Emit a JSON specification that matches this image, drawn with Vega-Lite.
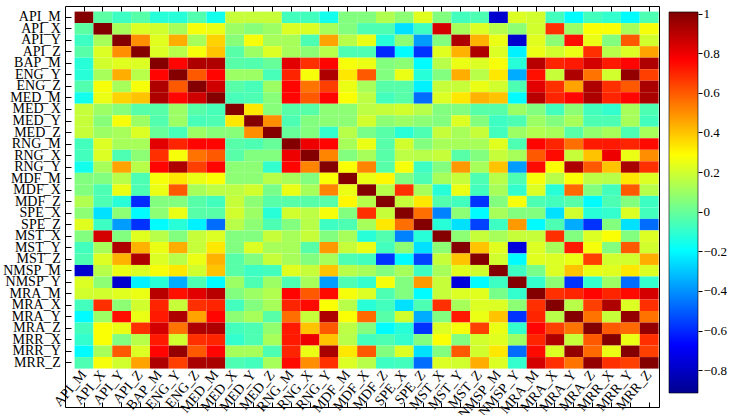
{
"$schema":"https://vega.github.io/schema/vega-lite/v6.json",
"padding":{"left":2,"top":5,"right":0,"bottom":0},
"background":"white",
"spacing":8,
"config":{"font":"Liberation Serif","view":{"stroke":"black","strokeWidth":1},"axis":{"labelFont":"Liberation Serif","labelColor":"black","tickColor":"black","domain":false,"grid":false,"title":null}},
"datasets":{"m":[
{"r":"API_M","c":"API_M","v":1},{"r":"API_M","c":"API_X","v":-0.02},{"r":"API_M","c":"API_Y","v":-0.08},{"r":"API_M","c":"API_Z","v":-0.03},{"r":"API_M","c":"BAP_M","v":-0.12},{"r":"API_M","c":"ENG_Y","v":-0.12},{"r":"API_M","c":"ENG_Z","v":-0.04},{"r":"API_M","c":"MED_M","v":-0.16},{"r":"API_M","c":"MED_X","v":0.18},{"r":"API_M","c":"MED_Y","v":0.18},{"r":"API_M","c":"MED_Z","v":0.18},{"r":"API_M","c":"RNG_M","v":-0.07},{"r":"API_M","c":"RNG_X","v":-0.07},{"r":"API_M","c":"RNG_Y","v":-0.16},{"r":"API_M","c":"MDF_M","v":0.05},{"r":"API_M","c":"MDF_X","v":0.05},{"r":"API_M","c":"MDF_Z","v":0.14},{"r":"API_M","c":"SPE_X","v":0.07},{"r":"API_M","c":"SPE_Z","v":0.23},{"r":"API_M","c":"MST_X","v":0.05},{"r":"API_M","c":"MST_Y","v":-0.07},{"r":"API_M","c":"MST_Z","v":-0.05},{"r":"API_M","c":"NMSP_M","v":-0.78},{"r":"API_M","c":"NMSP_Y","v":0.22},{"r":"API_M","c":"MRA_M","v":0.2},{"r":"API_M","c":"MRA_X","v":-0.07},{"r":"API_M","c":"MRA_Y","v":-0.2},{"r":"API_M","c":"MRA_Z","v":-0.07},{"r":"API_M","c":"MRR_X","v":-0.1},{"r":"API_M","c":"MRR_Y","v":-0.2},{"r":"API_M","c":"MRR_Z","v":-0.05},
{"r":"API_X","c":"API_M","v":-0.02},{"r":"API_X","c":"API_X","v":1},{"r":"API_X","c":"API_Y","v":0.12},{"r":"API_X","c":"API_Z","v":0.22},{"r":"API_X","c":"BAP_M","v":0.2},{"r":"API_X","c":"ENG_Y","v":0.12},{"r":"API_X","c":"ENG_Z","v":0.27},{"r":"API_X","c":"MED_M","v":0.25},{"r":"API_X","c":"MED_X","v":0.1},{"r":"API_X","c":"MED_Y","v":0.06},{"r":"API_X","c":"MED_Z","v":0.1},{"r":"API_X","c":"RNG_M","v":0.22},{"r":"API_X","c":"RNG_X","v":0.22},{"r":"API_X","c":"RNG_Y","v":0.12},{"r":"API_X","c":"MDF_M","v":0.05},{"r":"API_X","c":"MDF_X","v":-0.05},{"r":"API_X","c":"MDF_Z","v":-0.05},{"r":"API_X","c":"SPE_X","v":-0.25},{"r":"API_X","c":"SPE_Z","v":-0.08},{"r":"API_X","c":"MST_X","v":0.85},{"r":"API_X","c":"MST_Y","v":0.12},{"r":"API_X","c":"MST_Z","v":0.22},{"r":"API_X","c":"NMSP_M","v":0.15},{"r":"API_X","c":"NMSP_Y","v":0.07},{"r":"API_X","c":"MRA_M","v":0.2},{"r":"API_X","c":"MRA_X","v":0.68},{"r":"API_X","c":"MRA_Y","v":0.1},{"r":"API_X","c":"MRA_Z","v":0.28},{"r":"API_X","c":"MRR_X","v":0.28},{"r":"API_X","c":"MRR_Y","v":0.12},{"r":"API_X","c":"MRR_Z","v":0.27},
{"r":"API_Y","c":"API_M","v":-0.08},{"r":"API_Y","c":"API_X","v":0.12},{"r":"API_Y","c":"API_Y","v":1},{"r":"API_Y","c":"API_Z","v":0.5},{"r":"API_Y","c":"BAP_M","v":0.23},{"r":"API_Y","c":"ENG_Y","v":0.44},{"r":"API_Y","c":"ENG_Z","v":0.12},{"r":"API_Y","c":"MED_M","v":0.37},{"r":"API_Y","c":"MED_X","v":0.06},{"r":"API_Y","c":"MED_Y","v":0.27},{"r":"API_Y","c":"MED_Z","v":0.12},{"r":"API_Y","c":"RNG_M","v":0.12},{"r":"API_Y","c":"RNG_X","v":-0.05},{"r":"API_Y","c":"RNG_Y","v":0.46},{"r":"API_Y","c":"MDF_M","v":0.15},{"r":"API_Y","c":"MDF_X","v":0.25},{"r":"API_Y","c":"MDF_Z","v":-0.12},{"r":"API_Y","c":"SPE_X","v":0.07},{"r":"API_Y","c":"SPE_Z","v":-0.38},{"r":"API_Y","c":"MST_X","v":0.05},{"r":"API_Y","c":"MST_Y","v":0.92},{"r":"API_Y","c":"MST_Z","v":0.43},{"r":"API_Y","c":"NMSP_M","v":0.25},{"r":"API_Y","c":"NMSP_Y","v":-0.78},{"r":"API_Y","c":"MRA_M","v":0.23},{"r":"API_Y","c":"MRA_X","v":0.07},{"r":"API_Y","c":"MRA_Y","v":0.74},{"r":"API_Y","c":"MRA_Z","v":0.25},{"r":"API_Y","c":"MRR_X","v":0.05},{"r":"API_Y","c":"MRR_Y","v":0.6},{"r":"API_Y","c":"MRR_Z","v":0.2},
{"r":"API_Z","c":"API_M","v":-0.03},{"r":"API_Z","c":"API_X","v":0.22},{"r":"API_Z","c":"API_Y","v":0.5},{"r":"API_Z","c":"API_Z","v":1},{"r":"API_Z","c":"BAP_M","v":0.22},{"r":"API_Z","c":"ENG_Y","v":0.15},{"r":"API_Z","c":"ENG_Z","v":0.27},{"r":"API_Z","c":"MED_M","v":0.4},{"r":"API_Z","c":"MED_X","v":-0.03},{"r":"API_Z","c":"MED_Y","v":0.1},{"r":"API_Z","c":"MED_Z","v":0.22},{"r":"API_Z","c":"RNG_M","v":0.12},{"r":"API_Z","c":"RNG_X","v":0.07},{"r":"API_Z","c":"RNG_Y","v":0.15},{"r":"API_Z","c":"MDF_M","v":-0.05},{"r":"API_Z","c":"MDF_X","v":-0.05},{"r":"API_Z","c":"MDF_Z","v":-0.6},{"r":"API_Z","c":"SPE_X","v":-0.2},{"r":"API_Z","c":"SPE_Z","v":-0.58},{"r":"API_Z","c":"MST_X","v":0.23},{"r":"API_Z","c":"MST_Y","v":0.43},{"r":"API_Z","c":"MST_Z","v":0.92},{"r":"API_Z","c":"NMSP_M","v":0.22},{"r":"API_Z","c":"NMSP_Y","v":-0.22},{"r":"API_Z","c":"MRA_M","v":0.25},{"r":"API_Z","c":"MRA_X","v":0.2},{"r":"API_Z","c":"MRA_Y","v":0.25},{"r":"API_Z","c":"MRA_Z","v":0.68},{"r":"API_Z","c":"MRR_X","v":0.15},{"r":"API_Z","c":"MRR_Y","v":0.22},{"r":"API_Z","c":"MRR_Z","v":0.46},
{"r":"BAP_M","c":"API_M","v":-0.12},{"r":"BAP_M","c":"API_X","v":0.2},{"r":"BAP_M","c":"API_Y","v":0.23},{"r":"BAP_M","c":"API_Z","v":0.22},{"r":"BAP_M","c":"BAP_M","v":1},{"r":"BAP_M","c":"ENG_Y","v":0.76},{"r":"BAP_M","c":"ENG_Z","v":0.92},{"r":"BAP_M","c":"MED_M","v":0.92},{"r":"BAP_M","c":"MED_X","v":-0.03},{"r":"BAP_M","c":"MED_Y","v":-0.04},{"r":"BAP_M","c":"MED_Z","v":0.0},{"r":"BAP_M","c":"RNG_M","v":0.82},{"r":"BAP_M","c":"RNG_X","v":0.68},{"r":"BAP_M","c":"RNG_Y","v":0.76},{"r":"BAP_M","c":"MDF_M","v":0.27},{"r":"BAP_M","c":"MDF_X","v":0.25},{"r":"BAP_M","c":"MDF_Z","v":0.05},{"r":"BAP_M","c":"SPE_X","v":0.07},{"r":"BAP_M","c":"SPE_Z","v":-0.2},{"r":"BAP_M","c":"MST_X","v":0.15},{"r":"BAP_M","c":"MST_Y","v":0.25},{"r":"BAP_M","c":"MST_Z","v":0.22},{"r":"BAP_M","c":"NMSP_M","v":0.27},{"r":"BAP_M","c":"NMSP_Y","v":-0.12},{"r":"BAP_M","c":"MRA_M","v":0.9},{"r":"BAP_M","c":"MRA_X","v":0.7},{"r":"BAP_M","c":"MRA_Y","v":0.72},{"r":"BAP_M","c":"MRA_Z","v":0.85},{"r":"BAP_M","c":"MRR_X","v":0.72},{"r":"BAP_M","c":"MRR_Y","v":0.76},{"r":"BAP_M","c":"MRR_Z","v":0.92},
{"r":"ENG_Y","c":"API_M","v":-0.12},{"r":"ENG_Y","c":"API_X","v":0.12},{"r":"ENG_Y","c":"API_Y","v":0.44},{"r":"ENG_Y","c":"API_Z","v":0.15},{"r":"ENG_Y","c":"BAP_M","v":0.76},{"r":"ENG_Y","c":"ENG_Y","v":1},{"r":"ENG_Y","c":"ENG_Z","v":0.6},{"r":"ENG_Y","c":"MED_M","v":0.76},{"r":"ENG_Y","c":"MED_X","v":0.1},{"r":"ENG_Y","c":"MED_Y","v":0.1},{"r":"ENG_Y","c":"MED_Z","v":-0.06},{"r":"ENG_Y","c":"RNG_M","v":0.7},{"r":"ENG_Y","c":"RNG_X","v":0.27},{"r":"ENG_Y","c":"RNG_Y","v":0.92},{"r":"ENG_Y","c":"MDF_M","v":0.33},{"r":"ENG_Y","c":"MDF_X","v":0.6},{"r":"ENG_Y","c":"MDF_Z","v":0.05},{"r":"ENG_Y","c":"SPE_X","v":0.25},{"r":"ENG_Y","c":"SPE_Z","v":-0.12},{"r":"ENG_Y","c":"MST_X","v":0.05},{"r":"ENG_Y","c":"MST_Y","v":0.44},{"r":"ENG_Y","c":"MST_Z","v":0.15},{"r":"ENG_Y","c":"NMSP_M","v":0.33},{"r":"ENG_Y","c":"NMSP_Y","v":-0.35},{"r":"ENG_Y","c":"MRA_M","v":0.74},{"r":"ENG_Y","c":"MRA_X","v":0.18},{"r":"ENG_Y","c":"MRA_Y","v":0.92},{"r":"ENG_Y","c":"MRA_Z","v":0.55},{"r":"ENG_Y","c":"MRR_X","v":0.2},{"r":"ENG_Y","c":"MRR_Y","v":0.97},{"r":"ENG_Y","c":"MRR_Z","v":0.65},
{"r":"ENG_Z","c":"API_M","v":-0.04},{"r":"ENG_Z","c":"API_X","v":0.27},{"r":"ENG_Z","c":"API_Y","v":0.12},{"r":"ENG_Z","c":"API_Z","v":0.27},{"r":"ENG_Z","c":"BAP_M","v":0.92},{"r":"ENG_Z","c":"ENG_Y","v":0.6},{"r":"ENG_Z","c":"ENG_Z","v":1},{"r":"ENG_Z","c":"MED_M","v":0.86},{"r":"ENG_Z","c":"MED_X","v":-0.03},{"r":"ENG_Z","c":"MED_Y","v":-0.06},{"r":"ENG_Z","c":"MED_Z","v":0.1},{"r":"ENG_Z","c":"RNG_M","v":0.76},{"r":"ENG_Z","c":"RNG_X","v":0.55},{"r":"ENG_Z","c":"RNG_Y","v":0.65},{"r":"ENG_Z","c":"MDF_M","v":0.25},{"r":"ENG_Z","c":"MDF_X","v":0.12},{"r":"ENG_Z","c":"MDF_Z","v":-0.03},{"r":"ENG_Z","c":"SPE_X","v":-0.03},{"r":"ENG_Z","c":"SPE_Z","v":-0.22},{"r":"ENG_Z","c":"MST_X","v":0.18},{"r":"ENG_Z","c":"MST_Y","v":0.18},{"r":"ENG_Z","c":"MST_Z","v":0.25},{"r":"ENG_Z","c":"NMSP_M","v":0.2},{"r":"ENG_Z","c":"NMSP_Y","v":-0.05},{"r":"ENG_Z","c":"MRA_M","v":0.82},{"r":"ENG_Z","c":"MRA_X","v":0.68},{"r":"ENG_Z","c":"MRA_Y","v":0.46},{"r":"ENG_Z","c":"MRA_Z","v":0.92},{"r":"ENG_Z","c":"MRR_X","v":0.68},{"r":"ENG_Z","c":"MRR_Y","v":0.6},{"r":"ENG_Z","c":"MRR_Z","v":0.93},
{"r":"MED_M","c":"API_M","v":-0.16},{"r":"MED_M","c":"API_X","v":0.25},{"r":"MED_M","c":"API_Y","v":0.37},{"r":"MED_M","c":"API_Z","v":0.4},{"r":"MED_M","c":"BAP_M","v":0.92},{"r":"MED_M","c":"ENG_Y","v":0.76},{"r":"MED_M","c":"ENG_Z","v":0.86},{"r":"MED_M","c":"MED_M","v":1},{"r":"MED_M","c":"MED_X","v":-0.06},{"r":"MED_M","c":"MED_Y","v":-0.05},{"r":"MED_M","c":"MED_Z","v":0.06},{"r":"MED_M","c":"RNG_M","v":0.76},{"r":"MED_M","c":"RNG_X","v":0.6},{"r":"MED_M","c":"RNG_Y","v":0.76},{"r":"MED_M","c":"MDF_M","v":0.28},{"r":"MED_M","c":"MDF_X","v":0.16},{"r":"MED_M","c":"MDF_Z","v":-0.07},{"r":"MED_M","c":"SPE_X","v":-0.03},{"r":"MED_M","c":"SPE_Z","v":-0.47},{"r":"MED_M","c":"MST_X","v":0.22},{"r":"MED_M","c":"MST_Y","v":0.33},{"r":"MED_M","c":"MST_Z","v":0.43},{"r":"MED_M","c":"NMSP_M","v":0.4},{"r":"MED_M","c":"NMSP_Y","v":-0.2},{"r":"MED_M","c":"MRA_M","v":0.9},{"r":"MED_M","c":"MRA_X","v":0.7},{"r":"MED_M","c":"MRA_Y","v":0.76},{"r":"MED_M","c":"MRA_Z","v":0.92},{"r":"MED_M","c":"MRR_X","v":0.7},{"r":"MED_M","c":"MRR_Y","v":0.76},{"r":"MED_M","c":"MRR_Z","v":0.93},
{"r":"MED_X","c":"API_M","v":0.18},{"r":"MED_X","c":"API_X","v":0.1},{"r":"MED_X","c":"API_Y","v":0.06},{"r":"MED_X","c":"API_Z","v":-0.03},{"r":"MED_X","c":"BAP_M","v":-0.03},{"r":"MED_X","c":"ENG_Y","v":0.1},{"r":"MED_X","c":"ENG_Z","v":-0.03},{"r":"MED_X","c":"MED_M","v":-0.06},{"r":"MED_X","c":"MED_X","v":1},{"r":"MED_X","c":"MED_Y","v":0.33},{"r":"MED_X","c":"MED_Z","v":0.06},{"r":"MED_X","c":"RNG_M","v":-0.03},{"r":"MED_X","c":"RNG_X","v":-0.03},{"r":"MED_X","c":"RNG_Y","v":0.07},{"r":"MED_X","c":"MDF_M","v":0.07},{"r":"MED_X","c":"MDF_X","v":0.16},{"r":"MED_X","c":"MDF_Z","v":0.18},{"r":"MED_X","c":"SPE_X","v":0.2},{"r":"MED_X","c":"SPE_Z","v":0.15},{"r":"MED_X","c":"MST_X","v":0.05},{"r":"MED_X","c":"MST_Y","v":0.05},{"r":"MED_X","c":"MST_Z","v":-0.03},{"r":"MED_X","c":"NMSP_M","v":-0.03},{"r":"MED_X","c":"NMSP_Y","v":0.1},{"r":"MED_X","c":"MRA_M","v":0.05},{"r":"MED_X","c":"MRA_X","v":-0.07},{"r":"MED_X","c":"MRA_Y","v":0.07},{"r":"MED_X","c":"MRA_Z","v":-0.07},{"r":"MED_X","c":"MRR_X","v":-0.1},{"r":"MED_X","c":"MRR_Y","v":0.12},{"r":"MED_X","c":"MRR_Z","v":-0.05},
{"r":"MED_Y","c":"API_M","v":0.18},{"r":"MED_Y","c":"API_X","v":0.06},{"r":"MED_Y","c":"API_Y","v":0.27},{"r":"MED_Y","c":"API_Z","v":0.1},{"r":"MED_Y","c":"BAP_M","v":-0.04},{"r":"MED_Y","c":"ENG_Y","v":0.1},{"r":"MED_Y","c":"ENG_Z","v":-0.06},{"r":"MED_Y","c":"MED_M","v":-0.05},{"r":"MED_Y","c":"MED_X","v":0.33},{"r":"MED_Y","c":"MED_Y","v":1},{"r":"MED_Y","c":"MED_Z","v":0.5},{"r":"MED_Y","c":"RNG_M","v":-0.05},{"r":"MED_Y","c":"RNG_X","v":0.05},{"r":"MED_Y","c":"RNG_Y","v":0.07},{"r":"MED_Y","c":"MDF_M","v":0.07},{"r":"MED_Y","c":"MDF_X","v":0.2},{"r":"MED_Y","c":"MDF_Z","v":0.07},{"r":"MED_Y","c":"SPE_X","v":0.1},{"r":"MED_Y","c":"SPE_Z","v":0.07},{"r":"MED_Y","c":"MST_X","v":0.05},{"r":"MED_Y","c":"MST_Y","v":0.22},{"r":"MED_Y","c":"MST_Z","v":0.05},{"r":"MED_Y","c":"NMSP_M","v":-0.08},{"r":"MED_Y","c":"NMSP_Y","v":-0.05},{"r":"MED_Y","c":"MRA_M","v":0.1},{"r":"MED_Y","c":"MRA_X","v":0.05},{"r":"MED_Y","c":"MRA_Y","v":0.12},{"r":"MED_Y","c":"MRA_Z","v":-0.05},{"r":"MED_Y","c":"MRR_X","v":-0.05},{"r":"MED_Y","c":"MRR_Y","v":0.12},{"r":"MED_Y","c":"MRR_Z","v":-0.07},
{"r":"MED_Z","c":"API_M","v":0.18},{"r":"MED_Z","c":"API_X","v":0.1},{"r":"MED_Z","c":"API_Y","v":0.12},{"r":"MED_Z","c":"API_Z","v":0.22},{"r":"MED_Z","c":"BAP_M","v":0.0},{"r":"MED_Z","c":"ENG_Y","v":-0.06},{"r":"MED_Z","c":"ENG_Z","v":0.1},{"r":"MED_Z","c":"MED_M","v":0.06},{"r":"MED_Z","c":"MED_X","v":0.06},{"r":"MED_Z","c":"MED_Y","v":0.5},{"r":"MED_Z","c":"MED_Z","v":1},{"r":"MED_Z","c":"RNG_M","v":0.0},{"r":"MED_Z","c":"RNG_X","v":0.05},{"r":"MED_Z","c":"RNG_Y","v":-0.1},{"r":"MED_Z","c":"MDF_M","v":0.15},{"r":"MED_Z","c":"MDF_X","v":0.03},{"r":"MED_Z","c":"MDF_Z","v":-0.03},{"r":"MED_Z","c":"SPE_X","v":-0.12},{"r":"MED_Z","c":"SPE_Z","v":-0.05},{"r":"MED_Z","c":"MST_X","v":0.18},{"r":"MED_Z","c":"MST_Y","v":0.12},{"r":"MED_Z","c":"MST_Z","v":0.18},{"r":"MED_Z","c":"NMSP_M","v":-0.07},{"r":"MED_Z","c":"NMSP_Y","v":0.1},{"r":"MED_Z","c":"MRA_M","v":0.14},{"r":"MED_Z","c":"MRA_X","v":0.12},{"r":"MED_Z","c":"MRA_Y","v":-0.03},{"r":"MED_Z","c":"MRA_Z","v":0.08},{"r":"MED_Z","c":"MRR_X","v":0.12},{"r":"MED_Z","c":"MRR_Y","v":-0.05},{"r":"MED_Z","c":"MRR_Z","v":0.12},
{"r":"RNG_M","c":"API_M","v":-0.07},{"r":"RNG_M","c":"API_X","v":0.22},{"r":"RNG_M","c":"API_Y","v":0.12},{"r":"RNG_M","c":"API_Z","v":0.12},{"r":"RNG_M","c":"BAP_M","v":0.82},{"r":"RNG_M","c":"ENG_Y","v":0.7},{"r":"RNG_M","c":"ENG_Z","v":0.76},{"r":"RNG_M","c":"MED_M","v":0.76},{"r":"RNG_M","c":"MED_X","v":-0.03},{"r":"RNG_M","c":"MED_Y","v":-0.05},{"r":"RNG_M","c":"MED_Z","v":0.0},{"r":"RNG_M","c":"RNG_M","v":1},{"r":"RNG_M","c":"RNG_X","v":0.8},{"r":"RNG_M","c":"RNG_Y","v":0.76},{"r":"RNG_M","c":"MDF_M","v":0.12},{"r":"RNG_M","c":"MDF_X","v":0.25},{"r":"RNG_M","c":"MDF_Z","v":-0.03},{"r":"RNG_M","c":"SPE_X","v":0.2},{"r":"RNG_M","c":"SPE_Z","v":0.05},{"r":"RNG_M","c":"MST_X","v":0.12},{"r":"RNG_M","c":"MST_Y","v":0.12},{"r":"RNG_M","c":"MST_Z","v":0.12},{"r":"RNG_M","c":"NMSP_M","v":0.23},{"r":"RNG_M","c":"NMSP_Y","v":-0.05},{"r":"RNG_M","c":"MRA_M","v":0.76},{"r":"RNG_M","c":"MRA_X","v":0.7},{"r":"RNG_M","c":"MRA_Y","v":0.56},{"r":"RNG_M","c":"MRA_Z","v":0.72},{"r":"RNG_M","c":"MRR_X","v":0.72},{"r":"RNG_M","c":"MRR_Y","v":0.7},{"r":"RNG_M","c":"MRR_Z","v":0.75},
{"r":"RNG_X","c":"API_M","v":-0.07},{"r":"RNG_X","c":"API_X","v":0.22},{"r":"RNG_X","c":"API_Y","v":-0.05},{"r":"RNG_X","c":"API_Z","v":0.07},{"r":"RNG_X","c":"BAP_M","v":0.68},{"r":"RNG_X","c":"ENG_Y","v":0.27},{"r":"RNG_X","c":"ENG_Z","v":0.55},{"r":"RNG_X","c":"MED_M","v":0.6},{"r":"RNG_X","c":"MED_X","v":-0.03},{"r":"RNG_X","c":"MED_Y","v":0.05},{"r":"RNG_X","c":"MED_Z","v":0.05},{"r":"RNG_X","c":"RNG_M","v":0.8},{"r":"RNG_X","c":"RNG_X","v":1},{"r":"RNG_X","c":"RNG_Y","v":0.52},{"r":"RNG_X","c":"MDF_M","v":0.05},{"r":"RNG_X","c":"MDF_X","v":0.12},{"r":"RNG_X","c":"MDF_Z","v":-0.03},{"r":"RNG_X","c":"SPE_X","v":0.16},{"r":"RNG_X","c":"SPE_Z","v":0.15},{"r":"RNG_X","c":"MST_X","v":0.18},{"r":"RNG_X","c":"MST_Y","v":-0.03},{"r":"RNG_X","c":"MST_Z","v":0.05},{"r":"RNG_X","c":"NMSP_M","v":0.18},{"r":"RNG_X","c":"NMSP_Y","v":0.12},{"r":"RNG_X","c":"MRA_M","v":0.6},{"r":"RNG_X","c":"MRA_X","v":0.75},{"r":"RNG_X","c":"MRA_Y","v":0.18},{"r":"RNG_X","c":"MRA_Z","v":0.4},{"r":"RNG_X","c":"MRR_X","v":0.8},{"r":"RNG_X","c":"MRR_Y","v":0.25},{"r":"RNG_X","c":"MRR_Z","v":0.5},
{"r":"RNG_Y","c":"API_M","v":-0.16},{"r":"RNG_Y","c":"API_X","v":0.12},{"r":"RNG_Y","c":"API_Y","v":0.46},{"r":"RNG_Y","c":"API_Z","v":0.15},{"r":"RNG_Y","c":"BAP_M","v":0.76},{"r":"RNG_Y","c":"ENG_Y","v":0.92},{"r":"RNG_Y","c":"ENG_Z","v":0.65},{"r":"RNG_Y","c":"MED_M","v":0.76},{"r":"RNG_Y","c":"MED_X","v":0.07},{"r":"RNG_Y","c":"MED_Y","v":0.07},{"r":"RNG_Y","c":"MED_Z","v":-0.1},{"r":"RNG_Y","c":"RNG_M","v":0.76},{"r":"RNG_Y","c":"RNG_X","v":0.52},{"r":"RNG_Y","c":"RNG_Y","v":1},{"r":"RNG_Y","c":"MDF_M","v":0.28},{"r":"RNG_Y","c":"MDF_X","v":0.52},{"r":"RNG_Y","c":"MDF_Z","v":-0.03},{"r":"RNG_Y","c":"SPE_X","v":0.27},{"r":"RNG_Y","c":"SPE_Z","v":-0.08},{"r":"RNG_Y","c":"MST_X","v":0.05},{"r":"RNG_Y","c":"MST_Y","v":0.48},{"r":"RNG_Y","c":"MST_Z","v":0.12},{"r":"RNG_Y","c":"NMSP_M","v":0.4},{"r":"RNG_Y","c":"NMSP_Y","v":-0.38},{"r":"RNG_Y","c":"MRA_M","v":0.75},{"r":"RNG_Y","c":"MRA_X","v":0.28},{"r":"RNG_Y","c":"MRA_Y","v":0.92},{"r":"RNG_Y","c":"MRA_Z","v":0.6},{"r":"RNG_Y","c":"MRR_X","v":0.4},{"r":"RNG_Y","c":"MRR_Y","v":0.93},{"r":"RNG_Y","c":"MRR_Z","v":0.68},
{"r":"MDF_M","c":"API_M","v":0.05},{"r":"MDF_M","c":"API_X","v":0.05},{"r":"MDF_M","c":"API_Y","v":0.15},{"r":"MDF_M","c":"API_Z","v":-0.05},{"r":"MDF_M","c":"BAP_M","v":0.27},{"r":"MDF_M","c":"ENG_Y","v":0.33},{"r":"MDF_M","c":"ENG_Z","v":0.25},{"r":"MDF_M","c":"MED_M","v":0.28},{"r":"MDF_M","c":"MED_X","v":0.07},{"r":"MDF_M","c":"MED_Y","v":0.07},{"r":"MDF_M","c":"MED_Z","v":0.15},{"r":"MDF_M","c":"RNG_M","v":0.12},{"r":"MDF_M","c":"RNG_X","v":0.05},{"r":"MDF_M","c":"RNG_Y","v":0.28},{"r":"MDF_M","c":"MDF_M","v":1},{"r":"MDF_M","c":"MDF_X","v":0.25},{"r":"MDF_M","c":"MDF_Z","v":0.3},{"r":"MDF_M","c":"SPE_X","v":0.05},{"r":"MDF_M","c":"SPE_Z","v":-0.05},{"r":"MDF_M","c":"MST_X","v":0.12},{"r":"MDF_M","c":"MST_Y","v":0.18},{"r":"MDF_M","c":"MST_Z","v":-0.05},{"r":"MDF_M","c":"NMSP_M","v":0.15},{"r":"MDF_M","c":"NMSP_Y","v":-0.05},{"r":"MDF_M","c":"MRA_M","v":0.27},{"r":"MDF_M","c":"MRA_X","v":0.15},{"r":"MDF_M","c":"MRA_Y","v":0.28},{"r":"MDF_M","c":"MRA_Z","v":0.16},{"r":"MDF_M","c":"MRR_X","v":0.15},{"r":"MDF_M","c":"MRR_Y","v":0.33},{"r":"MDF_M","c":"MRR_Z","v":0.22},
{"r":"MDF_X","c":"API_M","v":0.05},{"r":"MDF_X","c":"API_X","v":-0.05},{"r":"MDF_X","c":"API_Y","v":0.25},{"r":"MDF_X","c":"API_Z","v":-0.05},{"r":"MDF_X","c":"BAP_M","v":0.25},{"r":"MDF_X","c":"ENG_Y","v":0.6},{"r":"MDF_X","c":"ENG_Z","v":0.12},{"r":"MDF_X","c":"MED_M","v":0.16},{"r":"MDF_X","c":"MED_X","v":0.16},{"r":"MDF_X","c":"MED_Y","v":0.2},{"r":"MDF_X","c":"MED_Z","v":0.03},{"r":"MDF_X","c":"RNG_M","v":0.25},{"r":"MDF_X","c":"RNG_X","v":0.12},{"r":"MDF_X","c":"RNG_Y","v":0.52},{"r":"MDF_X","c":"MDF_M","v":0.25},{"r":"MDF_X","c":"MDF_X","v":1},{"r":"MDF_X","c":"MDF_Z","v":0.15},{"r":"MDF_X","c":"SPE_X","v":0.68},{"r":"MDF_X","c":"SPE_Z","v":0.12},{"r":"MDF_X","c":"MST_X","v":-0.12},{"r":"MDF_X","c":"MST_Y","v":0.25},{"r":"MDF_X","c":"MST_Z","v":-0.07},{"r":"MDF_X","c":"NMSP_M","v":0.12},{"r":"MDF_X","c":"NMSP_Y","v":-0.1},{"r":"MDF_X","c":"MRA_M","v":0.22},{"r":"MDF_X","c":"MRA_X","v":-0.12},{"r":"MDF_X","c":"MRA_Y","v":0.57},{"r":"MDF_X","c":"MRA_Z","v":0.05},{"r":"MDF_X","c":"MRR_X","v":-0.07},{"r":"MDF_X","c":"MRR_Y","v":0.6},{"r":"MDF_X","c":"MRR_Z","v":0.15},
{"r":"MDF_Z","c":"API_M","v":0.14},{"r":"MDF_Z","c":"API_X","v":-0.05},{"r":"MDF_Z","c":"API_Y","v":-0.12},{"r":"MDF_Z","c":"API_Z","v":-0.6},{"r":"MDF_Z","c":"BAP_M","v":0.05},{"r":"MDF_Z","c":"ENG_Y","v":0.05},{"r":"MDF_Z","c":"ENG_Z","v":-0.03},{"r":"MDF_Z","c":"MED_M","v":-0.07},{"r":"MDF_Z","c":"MED_X","v":0.18},{"r":"MDF_Z","c":"MED_Y","v":0.07},{"r":"MDF_Z","c":"MED_Z","v":-0.03},{"r":"MDF_Z","c":"RNG_M","v":-0.03},{"r":"MDF_Z","c":"RNG_X","v":-0.03},{"r":"MDF_Z","c":"RNG_Y","v":-0.03},{"r":"MDF_Z","c":"MDF_M","v":0.3},{"r":"MDF_Z","c":"MDF_X","v":0.15},{"r":"MDF_Z","c":"MDF_Z","v":1},{"r":"MDF_Z","c":"SPE_X","v":0.18},{"r":"MDF_Z","c":"SPE_Z","v":0.33},{"r":"MDF_Z","c":"MST_X","v":-0.04},{"r":"MDF_Z","c":"MST_Y","v":-0.07},{"r":"MDF_Z","c":"MST_Z","v":-0.58},{"r":"MDF_Z","c":"NMSP_M","v":0.05},{"r":"MDF_Z","c":"NMSP_Y","v":0.27},{"r":"MDF_Z","c":"MRA_M","v":-0.05},{"r":"MDF_Z","c":"MRA_X","v":-0.07},{"r":"MDF_Z","c":"MRA_Y","v":-0.03},{"r":"MDF_Z","c":"MRA_Z","v":-0.2},{"r":"MDF_Z","c":"MRR_X","v":-0.05},{"r":"MDF_Z","c":"MRR_Y","v":0.05},{"r":"MDF_Z","c":"MRR_Z","v":-0.08},
{"r":"SPE_X","c":"API_M","v":0.07},{"r":"SPE_X","c":"API_X","v":-0.25},{"r":"SPE_X","c":"API_Y","v":0.07},{"r":"SPE_X","c":"API_Z","v":-0.2},{"r":"SPE_X","c":"BAP_M","v":0.07},{"r":"SPE_X","c":"ENG_Y","v":0.25},{"r":"SPE_X","c":"ENG_Z","v":-0.03},{"r":"SPE_X","c":"MED_M","v":-0.03},{"r":"SPE_X","c":"MED_X","v":0.2},{"r":"SPE_X","c":"MED_Y","v":0.1},{"r":"SPE_X","c":"MED_Z","v":-0.12},{"r":"SPE_X","c":"RNG_M","v":0.2},{"r":"SPE_X","c":"RNG_X","v":0.16},{"r":"SPE_X","c":"RNG_Y","v":0.27},{"r":"SPE_X","c":"MDF_M","v":0.05},{"r":"SPE_X","c":"MDF_X","v":0.68},{"r":"SPE_X","c":"MDF_Z","v":0.18},{"r":"SPE_X","c":"SPE_X","v":1},{"r":"SPE_X","c":"SPE_Z","v":0.56},{"r":"SPE_X","c":"MST_X","v":-0.43},{"r":"SPE_X","c":"MST_Y","v":0.07},{"r":"SPE_X","c":"MST_Z","v":-0.2},{"r":"SPE_X","c":"NMSP_M","v":0.12},{"r":"SPE_X","c":"NMSP_Y","v":0.05},{"r":"SPE_X","c":"MRA_M","v":0.05},{"r":"SPE_X","c":"MRA_X","v":-0.25},{"r":"SPE_X","c":"MRA_Y","v":0.2},{"r":"SPE_X","c":"MRA_Z","v":-0.12},{"r":"SPE_X","c":"MRR_X","v":-0.1},{"r":"SPE_X","c":"MRR_Y","v":0.22},{"r":"SPE_X","c":"MRR_Z","v":-0.07},
{"r":"SPE_Z","c":"API_M","v":0.23},{"r":"SPE_Z","c":"API_X","v":-0.08},{"r":"SPE_Z","c":"API_Y","v":-0.38},{"r":"SPE_Z","c":"API_Z","v":-0.58},{"r":"SPE_Z","c":"BAP_M","v":-0.2},{"r":"SPE_Z","c":"ENG_Y","v":-0.12},{"r":"SPE_Z","c":"ENG_Z","v":-0.22},{"r":"SPE_Z","c":"MED_M","v":-0.47},{"r":"SPE_Z","c":"MED_X","v":0.15},{"r":"SPE_Z","c":"MED_Y","v":0.07},{"r":"SPE_Z","c":"MED_Z","v":-0.05},{"r":"SPE_Z","c":"RNG_M","v":0.05},{"r":"SPE_Z","c":"RNG_X","v":0.15},{"r":"SPE_Z","c":"RNG_Y","v":-0.08},{"r":"SPE_Z","c":"MDF_M","v":-0.05},{"r":"SPE_Z","c":"MDF_X","v":0.12},{"r":"SPE_Z","c":"MDF_Z","v":0.33},{"r":"SPE_Z","c":"SPE_X","v":0.56},{"r":"SPE_Z","c":"SPE_Z","v":1},{"r":"SPE_Z","c":"MST_X","v":-0.12},{"r":"SPE_Z","c":"MST_Y","v":-0.25},{"r":"SPE_Z","c":"MST_Z","v":-0.55},{"r":"SPE_Z","c":"NMSP_M","v":-0.08},{"r":"SPE_Z","c":"NMSP_Y","v":0.48},{"r":"SPE_Z","c":"MRA_M","v":-0.2},{"r":"SPE_Z","c":"MRA_X","v":-0.05},{"r":"SPE_Z","c":"MRA_Y","v":-0.35},{"r":"SPE_Z","c":"MRA_Z","v":-0.58},{"r":"SPE_Z","c":"MRR_X","v":0.05},{"r":"SPE_Z","c":"MRR_Y","v":-0.25},{"r":"SPE_Z","c":"MRR_Z","v":-0.47},
{"r":"MST_X","c":"API_M","v":0.05},{"r":"MST_X","c":"API_X","v":0.85},{"r":"MST_X","c":"API_Y","v":0.05},{"r":"MST_X","c":"API_Z","v":0.23},{"r":"MST_X","c":"BAP_M","v":0.15},{"r":"MST_X","c":"ENG_Y","v":0.05},{"r":"MST_X","c":"ENG_Z","v":0.18},{"r":"MST_X","c":"MED_M","v":0.22},{"r":"MST_X","c":"MED_X","v":0.05},{"r":"MST_X","c":"MED_Y","v":0.05},{"r":"MST_X","c":"MED_Z","v":0.18},{"r":"MST_X","c":"RNG_M","v":0.12},{"r":"MST_X","c":"RNG_X","v":0.18},{"r":"MST_X","c":"RNG_Y","v":0.05},{"r":"MST_X","c":"MDF_M","v":0.12},{"r":"MST_X","c":"MDF_X","v":-0.12},{"r":"MST_X","c":"MDF_Z","v":-0.04},{"r":"MST_X","c":"SPE_X","v":-0.43},{"r":"MST_X","c":"SPE_Z","v":-0.12},{"r":"MST_X","c":"MST_X","v":1},{"r":"MST_X","c":"MST_Y","v":0.07},{"r":"MST_X","c":"MST_Z","v":0.18},{"r":"MST_X","c":"NMSP_M","v":0.12},{"r":"MST_X","c":"NMSP_Y","v":0.18},{"r":"MST_X","c":"MRA_M","v":0.18},{"r":"MST_X","c":"MRA_X","v":0.68},{"r":"MST_X","c":"MRA_Y","v":0.05},{"r":"MST_X","c":"MRA_Z","v":0.22},{"r":"MST_X","c":"MRR_X","v":0.28},{"r":"MST_X","c":"MRR_Y","v":0.05},{"r":"MST_X","c":"MRR_Z","v":0.22},
{"r":"MST_Y","c":"API_M","v":-0.07},{"r":"MST_Y","c":"API_X","v":0.12},{"r":"MST_Y","c":"API_Y","v":0.92},{"r":"MST_Y","c":"API_Z","v":0.43},{"r":"MST_Y","c":"BAP_M","v":0.25},{"r":"MST_Y","c":"ENG_Y","v":0.44},{"r":"MST_Y","c":"ENG_Z","v":0.18},{"r":"MST_Y","c":"MED_M","v":0.33},{"r":"MST_Y","c":"MED_X","v":0.05},{"r":"MST_Y","c":"MED_Y","v":0.22},{"r":"MST_Y","c":"MED_Z","v":0.12},{"r":"MST_Y","c":"RNG_M","v":0.12},{"r":"MST_Y","c":"RNG_X","v":-0.03},{"r":"MST_Y","c":"RNG_Y","v":0.48},{"r":"MST_Y","c":"MDF_M","v":0.18},{"r":"MST_Y","c":"MDF_X","v":0.25},{"r":"MST_Y","c":"MDF_Z","v":-0.07},{"r":"MST_Y","c":"SPE_X","v":0.07},{"r":"MST_Y","c":"SPE_Z","v":-0.25},{"r":"MST_Y","c":"MST_X","v":0.07},{"r":"MST_Y","c":"MST_Y","v":1},{"r":"MST_Y","c":"MST_Z","v":0.4},{"r":"MST_Y","c":"NMSP_M","v":0.23},{"r":"MST_Y","c":"NMSP_Y","v":-0.75},{"r":"MST_Y","c":"MRA_M","v":0.22},{"r":"MST_Y","c":"MRA_X","v":0.12},{"r":"MST_Y","c":"MRA_Y","v":0.72},{"r":"MST_Y","c":"MRA_Z","v":0.27},{"r":"MST_Y","c":"MRR_X","v":0.05},{"r":"MST_Y","c":"MRR_Y","v":0.6},{"r":"MST_Y","c":"MRR_Z","v":0.2},
{"r":"MST_Z","c":"API_M","v":-0.05},{"r":"MST_Z","c":"API_X","v":0.22},{"r":"MST_Z","c":"API_Y","v":0.43},{"r":"MST_Z","c":"API_Z","v":0.92},{"r":"MST_Z","c":"BAP_M","v":0.22},{"r":"MST_Z","c":"ENG_Y","v":0.15},{"r":"MST_Z","c":"ENG_Z","v":0.25},{"r":"MST_Z","c":"MED_M","v":0.43},{"r":"MST_Z","c":"MED_X","v":-0.03},{"r":"MST_Z","c":"MED_Y","v":0.05},{"r":"MST_Z","c":"MED_Z","v":0.18},{"r":"MST_Z","c":"RNG_M","v":0.12},{"r":"MST_Z","c":"RNG_X","v":0.05},{"r":"MST_Z","c":"RNG_Y","v":0.12},{"r":"MST_Z","c":"MDF_M","v":-0.05},{"r":"MST_Z","c":"MDF_X","v":-0.07},{"r":"MST_Z","c":"MDF_Z","v":-0.58},{"r":"MST_Z","c":"SPE_X","v":-0.2},{"r":"MST_Z","c":"SPE_Z","v":-0.55},{"r":"MST_Z","c":"MST_X","v":0.18},{"r":"MST_Z","c":"MST_Y","v":0.4},{"r":"MST_Z","c":"MST_Z","v":1},{"r":"MST_Z","c":"NMSP_M","v":0.2},{"r":"MST_Z","c":"NMSP_Y","v":-0.2},{"r":"MST_Z","c":"MRA_M","v":0.23},{"r":"MST_Z","c":"MRA_X","v":0.22},{"r":"MST_Z","c":"MRA_Y","v":0.25},{"r":"MST_Z","c":"MRA_Z","v":0.65},{"r":"MST_Z","c":"MRR_X","v":0.2},{"r":"MST_Z","c":"MRR_Y","v":0.2},{"r":"MST_Z","c":"MRR_Z","v":0.44},
{"r":"NMSP_M","c":"API_M","v":-0.78},{"r":"NMSP_M","c":"API_X","v":0.15},{"r":"NMSP_M","c":"API_Y","v":0.25},{"r":"NMSP_M","c":"API_Z","v":0.22},{"r":"NMSP_M","c":"BAP_M","v":0.27},{"r":"NMSP_M","c":"ENG_Y","v":0.33},{"r":"NMSP_M","c":"ENG_Z","v":0.2},{"r":"NMSP_M","c":"MED_M","v":0.4},{"r":"NMSP_M","c":"MED_X","v":-0.03},{"r":"NMSP_M","c":"MED_Y","v":-0.08},{"r":"NMSP_M","c":"MED_Z","v":-0.07},{"r":"NMSP_M","c":"RNG_M","v":0.23},{"r":"NMSP_M","c":"RNG_X","v":0.18},{"r":"NMSP_M","c":"RNG_Y","v":0.4},{"r":"NMSP_M","c":"MDF_M","v":0.15},{"r":"NMSP_M","c":"MDF_X","v":0.12},{"r":"NMSP_M","c":"MDF_Z","v":0.05},{"r":"NMSP_M","c":"SPE_X","v":0.12},{"r":"NMSP_M","c":"SPE_Z","v":-0.08},{"r":"NMSP_M","c":"MST_X","v":0.12},{"r":"NMSP_M","c":"MST_Y","v":0.23},{"r":"NMSP_M","c":"MST_Z","v":0.2},{"r":"NMSP_M","c":"NMSP_M","v":1},{"r":"NMSP_M","c":"NMSP_Y","v":-0.08},{"r":"NMSP_M","c":"MRA_M","v":0.03},{"r":"NMSP_M","c":"MRA_X","v":0.22},{"r":"NMSP_M","c":"MRA_Y","v":0.4},{"r":"NMSP_M","c":"MRA_Z","v":0.25},{"r":"NMSP_M","c":"MRR_X","v":0.23},{"r":"NMSP_M","c":"MRR_Y","v":0.33},{"r":"NMSP_M","c":"MRR_Z","v":0.22},
{"r":"NMSP_Y","c":"API_M","v":0.22},{"r":"NMSP_Y","c":"API_X","v":0.07},{"r":"NMSP_Y","c":"API_Y","v":-0.78},{"r":"NMSP_Y","c":"API_Z","v":-0.22},{"r":"NMSP_Y","c":"BAP_M","v":-0.12},{"r":"NMSP_Y","c":"ENG_Y","v":-0.35},{"r":"NMSP_Y","c":"ENG_Z","v":-0.05},{"r":"NMSP_Y","c":"MED_M","v":-0.2},{"r":"NMSP_Y","c":"MED_X","v":0.1},{"r":"NMSP_Y","c":"MED_Y","v":-0.05},{"r":"NMSP_Y","c":"MED_Z","v":0.1},{"r":"NMSP_Y","c":"RNG_M","v":-0.05},{"r":"NMSP_Y","c":"RNG_X","v":0.12},{"r":"NMSP_Y","c":"RNG_Y","v":-0.38},{"r":"NMSP_Y","c":"MDF_M","v":-0.05},{"r":"NMSP_Y","c":"MDF_X","v":-0.1},{"r":"NMSP_Y","c":"MDF_Z","v":0.27},{"r":"NMSP_Y","c":"SPE_X","v":0.05},{"r":"NMSP_Y","c":"SPE_Z","v":0.48},{"r":"NMSP_Y","c":"MST_X","v":0.18},{"r":"NMSP_Y","c":"MST_Y","v":-0.75},{"r":"NMSP_Y","c":"MST_Z","v":-0.2},{"r":"NMSP_Y","c":"NMSP_M","v":-0.08},{"r":"NMSP_Y","c":"NMSP_Y","v":1},{"r":"NMSP_Y","c":"MRA_M","v":-0.1},{"r":"NMSP_Y","c":"MRA_X","v":0.07},{"r":"NMSP_Y","c":"MRA_Y","v":-0.58},{"r":"NMSP_Y","c":"MRA_Z","v":-0.1},{"r":"NMSP_Y","c":"MRR_X","v":0.1},{"r":"NMSP_Y","c":"MRR_Y","v":-0.47},{"r":"NMSP_Y","c":"MRR_Z","v":-0.1},
{"r":"MRA_M","c":"API_M","v":0.2},{"r":"MRA_M","c":"API_X","v":0.2},{"r":"MRA_M","c":"API_Y","v":0.23},{"r":"MRA_M","c":"API_Z","v":0.25},{"r":"MRA_M","c":"BAP_M","v":0.9},{"r":"MRA_M","c":"ENG_Y","v":0.74},{"r":"MRA_M","c":"ENG_Z","v":0.82},{"r":"MRA_M","c":"MED_M","v":0.9},{"r":"MRA_M","c":"MED_X","v":0.05},{"r":"MRA_M","c":"MED_Y","v":0.1},{"r":"MRA_M","c":"MED_Z","v":0.14},{"r":"MRA_M","c":"RNG_M","v":0.76},{"r":"MRA_M","c":"RNG_X","v":0.6},{"r":"MRA_M","c":"RNG_Y","v":0.75},{"r":"MRA_M","c":"MDF_M","v":0.27},{"r":"MRA_M","c":"MDF_X","v":0.22},{"r":"MRA_M","c":"MDF_Z","v":-0.05},{"r":"MRA_M","c":"SPE_X","v":0.05},{"r":"MRA_M","c":"SPE_Z","v":-0.2},{"r":"MRA_M","c":"MST_X","v":0.18},{"r":"MRA_M","c":"MST_Y","v":0.22},{"r":"MRA_M","c":"MST_Z","v":0.23},{"r":"MRA_M","c":"NMSP_M","v":0.03},{"r":"MRA_M","c":"NMSP_Y","v":-0.1},{"r":"MRA_M","c":"MRA_M","v":1},{"r":"MRA_M","c":"MRA_X","v":0.68},{"r":"MRA_M","c":"MRA_Y","v":0.7},{"r":"MRA_M","c":"MRA_Z","v":0.76},{"r":"MRA_M","c":"MRR_X","v":0.7},{"r":"MRA_M","c":"MRR_Y","v":0.75},{"r":"MRA_M","c":"MRR_Z","v":0.85},
{"r":"MRA_X","c":"API_M","v":-0.07},{"r":"MRA_X","c":"API_X","v":0.68},{"r":"MRA_X","c":"API_Y","v":0.07},{"r":"MRA_X","c":"API_Z","v":0.2},{"r":"MRA_X","c":"BAP_M","v":0.7},{"r":"MRA_X","c":"ENG_Y","v":0.18},{"r":"MRA_X","c":"ENG_Z","v":0.68},{"r":"MRA_X","c":"MED_M","v":0.7},{"r":"MRA_X","c":"MED_X","v":-0.07},{"r":"MRA_X","c":"MED_Y","v":0.05},{"r":"MRA_X","c":"MED_Z","v":0.12},{"r":"MRA_X","c":"RNG_M","v":0.7},{"r":"MRA_X","c":"RNG_X","v":0.75},{"r":"MRA_X","c":"RNG_Y","v":0.28},{"r":"MRA_X","c":"MDF_M","v":0.15},{"r":"MRA_X","c":"MDF_X","v":-0.12},{"r":"MRA_X","c":"MDF_Z","v":-0.07},{"r":"MRA_X","c":"SPE_X","v":-0.25},{"r":"MRA_X","c":"SPE_Z","v":-0.05},{"r":"MRA_X","c":"MST_X","v":0.68},{"r":"MRA_X","c":"MST_Y","v":0.12},{"r":"MRA_X","c":"MST_Z","v":0.22},{"r":"MRA_X","c":"NMSP_M","v":0.22},{"r":"MRA_X","c":"NMSP_Y","v":0.07},{"r":"MRA_X","c":"MRA_M","v":0.68},{"r":"MRA_X","c":"MRA_X","v":1},{"r":"MRA_X","c":"MRA_Y","v":0.15},{"r":"MRA_X","c":"MRA_Z","v":0.65},{"r":"MRA_X","c":"MRR_X","v":0.92},{"r":"MRA_X","c":"MRR_Y","v":0.22},{"r":"MRA_X","c":"MRR_Z","v":0.68},
{"r":"MRA_Y","c":"API_M","v":-0.2},{"r":"MRA_Y","c":"API_X","v":0.1},{"r":"MRA_Y","c":"API_Y","v":0.74},{"r":"MRA_Y","c":"API_Z","v":0.25},{"r":"MRA_Y","c":"BAP_M","v":0.72},{"r":"MRA_Y","c":"ENG_Y","v":0.92},{"r":"MRA_Y","c":"ENG_Z","v":0.46},{"r":"MRA_Y","c":"MED_M","v":0.76},{"r":"MRA_Y","c":"MED_X","v":0.07},{"r":"MRA_Y","c":"MED_Y","v":0.12},{"r":"MRA_Y","c":"MED_Z","v":-0.03},{"r":"MRA_Y","c":"RNG_M","v":0.56},{"r":"MRA_Y","c":"RNG_X","v":0.18},{"r":"MRA_Y","c":"RNG_Y","v":0.92},{"r":"MRA_Y","c":"MDF_M","v":0.28},{"r":"MRA_Y","c":"MDF_X","v":0.57},{"r":"MRA_Y","c":"MDF_Z","v":-0.03},{"r":"MRA_Y","c":"SPE_X","v":0.2},{"r":"MRA_Y","c":"SPE_Z","v":-0.35},{"r":"MRA_Y","c":"MST_X","v":0.05},{"r":"MRA_Y","c":"MST_Y","v":0.72},{"r":"MRA_Y","c":"MST_Z","v":0.25},{"r":"MRA_Y","c":"NMSP_M","v":0.4},{"r":"MRA_Y","c":"NMSP_Y","v":-0.58},{"r":"MRA_Y","c":"MRA_M","v":0.7},{"r":"MRA_Y","c":"MRA_X","v":0.15},{"r":"MRA_Y","c":"MRA_Y","v":1},{"r":"MRA_Y","c":"MRA_Z","v":0.55},{"r":"MRA_Y","c":"MRR_X","v":0.18},{"r":"MRA_Y","c":"MRR_Y","v":0.97},{"r":"MRA_Y","c":"MRR_Z","v":0.55},
{"r":"MRA_Z","c":"API_M","v":-0.07},{"r":"MRA_Z","c":"API_X","v":0.28},{"r":"MRA_Z","c":"API_Y","v":0.25},{"r":"MRA_Z","c":"API_Z","v":0.68},{"r":"MRA_Z","c":"BAP_M","v":0.85},{"r":"MRA_Z","c":"ENG_Y","v":0.55},{"r":"MRA_Z","c":"ENG_Z","v":0.92},{"r":"MRA_Z","c":"MED_M","v":0.92},{"r":"MRA_Z","c":"MED_X","v":-0.07},{"r":"MRA_Z","c":"MED_Y","v":-0.05},{"r":"MRA_Z","c":"MED_Z","v":0.08},{"r":"MRA_Z","c":"RNG_M","v":0.72},{"r":"MRA_Z","c":"RNG_X","v":0.4},{"r":"MRA_Z","c":"RNG_Y","v":0.6},{"r":"MRA_Z","c":"MDF_M","v":0.16},{"r":"MRA_Z","c":"MDF_X","v":0.05},{"r":"MRA_Z","c":"MDF_Z","v":-0.2},{"r":"MRA_Z","c":"SPE_X","v":-0.12},{"r":"MRA_Z","c":"SPE_Z","v":-0.58},{"r":"MRA_Z","c":"MST_X","v":0.22},{"r":"MRA_Z","c":"MST_Y","v":0.27},{"r":"MRA_Z","c":"MST_Z","v":0.65},{"r":"MRA_Z","c":"NMSP_M","v":0.25},{"r":"MRA_Z","c":"NMSP_Y","v":-0.1},{"r":"MRA_Z","c":"MRA_M","v":0.76},{"r":"MRA_Z","c":"MRA_X","v":0.65},{"r":"MRA_Z","c":"MRA_Y","v":0.55},{"r":"MRA_Z","c":"MRA_Z","v":1},{"r":"MRA_Z","c":"MRR_X","v":0.6},{"r":"MRA_Z","c":"MRR_Y","v":0.57},{"r":"MRA_Z","c":"MRR_Z","v":0.97},
{"r":"MRR_X","c":"API_M","v":-0.1},{"r":"MRR_X","c":"API_X","v":0.28},{"r":"MRR_X","c":"API_Y","v":0.05},{"r":"MRR_X","c":"API_Z","v":0.15},{"r":"MRR_X","c":"BAP_M","v":0.72},{"r":"MRR_X","c":"ENG_Y","v":0.2},{"r":"MRR_X","c":"ENG_Z","v":0.68},{"r":"MRR_X","c":"MED_M","v":0.7},{"r":"MRR_X","c":"MED_X","v":-0.1},{"r":"MRR_X","c":"MED_Y","v":-0.05},{"r":"MRR_X","c":"MED_Z","v":0.12},{"r":"MRR_X","c":"RNG_M","v":0.72},{"r":"MRR_X","c":"RNG_X","v":0.8},{"r":"MRR_X","c":"RNG_Y","v":0.4},{"r":"MRR_X","c":"MDF_M","v":0.15},{"r":"MRR_X","c":"MDF_X","v":-0.07},{"r":"MRR_X","c":"MDF_Z","v":-0.05},{"r":"MRR_X","c":"SPE_X","v":-0.1},{"r":"MRR_X","c":"SPE_Z","v":0.05},{"r":"MRR_X","c":"MST_X","v":0.28},{"r":"MRR_X","c":"MST_Y","v":0.05},{"r":"MRR_X","c":"MST_Z","v":0.2},{"r":"MRR_X","c":"NMSP_M","v":0.23},{"r":"MRR_X","c":"NMSP_Y","v":0.1},{"r":"MRR_X","c":"MRA_M","v":0.7},{"r":"MRR_X","c":"MRA_X","v":0.92},{"r":"MRR_X","c":"MRA_Y","v":0.18},{"r":"MRR_X","c":"MRA_Z","v":0.6},{"r":"MRR_X","c":"MRR_X","v":1},{"r":"MRR_X","c":"MRR_Y","v":0.25},{"r":"MRR_X","c":"MRR_Z","v":0.68},
{"r":"MRR_Y","c":"API_M","v":-0.2},{"r":"MRR_Y","c":"API_X","v":0.12},{"r":"MRR_Y","c":"API_Y","v":0.6},{"r":"MRR_Y","c":"API_Z","v":0.22},{"r":"MRR_Y","c":"BAP_M","v":0.76},{"r":"MRR_Y","c":"ENG_Y","v":0.97},{"r":"MRR_Y","c":"ENG_Z","v":0.6},{"r":"MRR_Y","c":"MED_M","v":0.76},{"r":"MRR_Y","c":"MED_X","v":0.12},{"r":"MRR_Y","c":"MED_Y","v":0.12},{"r":"MRR_Y","c":"MED_Z","v":-0.05},{"r":"MRR_Y","c":"RNG_M","v":0.7},{"r":"MRR_Y","c":"RNG_X","v":0.25},{"r":"MRR_Y","c":"RNG_Y","v":0.93},{"r":"MRR_Y","c":"MDF_M","v":0.33},{"r":"MRR_Y","c":"MDF_X","v":0.6},{"r":"MRR_Y","c":"MDF_Z","v":0.05},{"r":"MRR_Y","c":"SPE_X","v":0.22},{"r":"MRR_Y","c":"SPE_Z","v":-0.25},{"r":"MRR_Y","c":"MST_X","v":0.05},{"r":"MRR_Y","c":"MST_Y","v":0.6},{"r":"MRR_Y","c":"MST_Z","v":0.2},{"r":"MRR_Y","c":"NMSP_M","v":0.33},{"r":"MRR_Y","c":"NMSP_Y","v":-0.47},{"r":"MRR_Y","c":"MRA_M","v":0.75},{"r":"MRR_Y","c":"MRA_X","v":0.22},{"r":"MRR_Y","c":"MRA_Y","v":0.97},{"r":"MRR_Y","c":"MRA_Z","v":0.57},{"r":"MRR_Y","c":"MRR_X","v":0.25},{"r":"MRR_Y","c":"MRR_Y","v":1},{"r":"MRR_Y","c":"MRR_Z","v":0.65},
{"r":"MRR_Z","c":"API_M","v":-0.05},{"r":"MRR_Z","c":"API_X","v":0.27},{"r":"MRR_Z","c":"API_Y","v":0.2},{"r":"MRR_Z","c":"API_Z","v":0.46},{"r":"MRR_Z","c":"BAP_M","v":0.92},{"r":"MRR_Z","c":"ENG_Y","v":0.65},{"r":"MRR_Z","c":"ENG_Z","v":0.93},{"r":"MRR_Z","c":"MED_M","v":0.93},{"r":"MRR_Z","c":"MED_X","v":-0.05},{"r":"MRR_Z","c":"MED_Y","v":-0.07},{"r":"MRR_Z","c":"MED_Z","v":0.12},{"r":"MRR_Z","c":"RNG_M","v":0.75},{"r":"MRR_Z","c":"RNG_X","v":0.5},{"r":"MRR_Z","c":"RNG_Y","v":0.68},{"r":"MRR_Z","c":"MDF_M","v":0.22},{"r":"MRR_Z","c":"MDF_X","v":0.15},{"r":"MRR_Z","c":"MDF_Z","v":-0.08},{"r":"MRR_Z","c":"SPE_X","v":-0.07},{"r":"MRR_Z","c":"SPE_Z","v":-0.47},{"r":"MRR_Z","c":"MST_X","v":0.22},{"r":"MRR_Z","c":"MST_Y","v":0.2},{"r":"MRR_Z","c":"MST_Z","v":0.44},{"r":"MRR_Z","c":"NMSP_M","v":0.22},{"r":"MRR_Z","c":"NMSP_Y","v":-0.1},{"r":"MRR_Z","c":"MRA_M","v":0.85},{"r":"MRR_Z","c":"MRA_X","v":0.68},{"r":"MRR_Z","c":"MRA_Y","v":0.55},{"r":"MRR_Z","c":"MRA_Z","v":0.97},{"r":"MRR_Z","c":"MRR_X","v":0.68},{"r":"MRR_Z","c":"MRR_Y","v":0.65},{"r":"MRR_Z","c":"MRR_Z","v":1}
]},
"hconcat":[
{"width":594,"height":401,
 "data":{"name":"m"},
 "layer":[
  {"mark":{"type":"rect"},
   "encoding":{
    "x":{"field":"c","type":"nominal","sort":["API_M","API_X","API_Y","API_Z","BAP_M","ENG_Y","ENG_Z","MED_M","MED_X","MED_Y","MED_Z","RNG_M","RNG_X","RNG_Y","MDF_M","MDF_X","MDF_Z","SPE_X","SPE_Z","MST_X","MST_Y","MST_Z","NMSP_M","NMSP_Y","MRA_M","MRA_X","MRA_Y","MRA_Z","MRR_X","MRR_Y","MRR_Z"],"scale":{"paddingInner":0,"paddingOuter":0,"range":[9.6,593.6]},"axis":{"orient":"bottom","labelAngle":-50,"tickSize":-5,"labelPadding":-30,"labelFontSize":14}},
    "y":{"field":"r","type":"nominal","sort":["API_M","API_X","API_Y","API_Z","BAP_M","ENG_Y","ENG_Z","MED_M","MED_X","MED_Y","MED_Z","RNG_M","RNG_X","RNG_Y","MDF_M","MDF_X","MDF_Z","SPE_X","SPE_Z","MST_X","MST_Y","MST_Z","NMSP_M","NMSP_Y","MRA_M","MRA_X","MRA_Y","MRA_Z","MRR_X","MRR_Y","MRR_Z"],"scale":{"paddingInner":0,"paddingOuter":0,"range":[5.6,362.6]},"axis":{"orient":"left","tickSize":-6,"labelPadding":10.7,"labelFontSize":14}},
    "color":{"field":"v","type":"quantitative","scale":{"type":"linear","domain":[-0.915,-0.675,-0.434,-0.194,0.047,0.287,0.527,0.768,1.008],"range":["#00008f","#0000ff","#0080ff","#00ffff","#80ff80","#ffff00","#ff8000","#ff0000","#800000"],"interpolate":"rgb"},"legend":null}
   }},
  {"mark":{"type":"rect","opacity":0},
   "encoding":{"x":{"field":"c","type":"nominal","sort":["API_M","API_X","API_Y","API_Z","BAP_M","ENG_Y","ENG_Z","MED_M","MED_X","MED_Y","MED_Z","RNG_M","RNG_X","RNG_Y","MDF_M","MDF_X","MDF_Z","SPE_X","SPE_Z","MST_X","MST_Y","MST_Z","NMSP_M","NMSP_Y","MRA_M","MRA_X","MRA_Y","MRA_Z","MRR_X","MRR_Y","MRR_Z"],"axis":{"orient":"top","labels":false,"tickSize":-5}}}}
 ],
 "resolve":{"axis":{"x":"independent"}}
},
{"width":29,"height":392,
 "view":{"stroke":null},
 "data":{"values":[{}]},
 "mark":{"type":"rect","stroke":"black","strokeWidth":0.6,"color":{"gradient":"linear","x1":0,"y1":1,"x2":0,"y2":0,"stops":[{"offset":0,"color":"#00008f"},{"offset":0.125,"color":"#0000ff"},{"offset":0.25,"color":"#0080ff"},{"offset":0.375,"color":"#00ffff"},{"offset":0.5,"color":"#80ff80"},{"offset":0.625,"color":"#ffff00"},{"offset":0.75,"color":"#ff8000"},{"offset":0.875,"color":"#ff0000"},{"offset":1,"color":"#800000"}]}},
 "encoding":{
  "y":{"datum":-0.915,"type":"quantitative","scale":{"domain":[-0.94,1.038],"nice":false,"zero":false},"axis":{"orient":"right","values":[-0.8,-0.6,-0.4,-0.2,0,0.2,0.4,0.6,0.8,1],"format":".1~f","tickSize":4,"labelPadding":1,"labelFontSize":13}},
  "y2":{"datum":1.008}
 }
}
]
}
